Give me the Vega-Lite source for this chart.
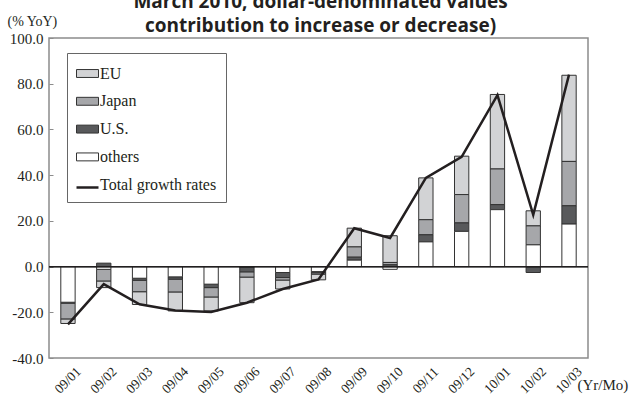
{
  "$schema": "https://vega.github.io/schema/vega-lite/v6.json",
  "width": 539,
  "height": 320,
  "autosize": {"type": "none"},
  "padding": {"left": 49, "top": 38, "right": 42, "bottom": 40},
  "background": "white",
  "title": {
    "text": ["March 2010, dollar-denominated values", "contribution to increase or decrease)"],
    "font": "Open Sans",
    "fontSize": 19,
    "fontWeight": "bold",
    "lineHeight": 24,
    "color": "#231f20",
    "anchor": "middle",
    "offset": -22,
    "dx": 2
  },
  "config": {
    "view": {"stroke": "#8c8c8c", "strokeWidth": 1.5},
    "axis": {"labelFont": "Times New Roman, Liberation Serif, serif", "titleFont": "Times New Roman, Liberation Serif, serif", "labelColor": "#231f20", "titleColor": "#231f20", "grid": false, "domain": false}
  },
  "datasets": {
    "parts": [
      {"month": "09/01", "series": "EU", "value": -2.0}, {"month": "09/01", "series": "Japan", "value": -6.9}, {"month": "09/01", "series": "U.S.", "value": -0.4}, {"month": "09/01", "series": "others", "value": -15.6},
      {"month": "09/02", "series": "EU", "value": -2.9}, {"month": "09/02", "series": "Japan", "value": -5.1}, {"month": "09/02", "series": "U.S.", "value": 1.5}, {"month": "09/02", "series": "others", "value": -1.2},
      {"month": "09/03", "series": "EU", "value": -5.6}, {"month": "09/03", "series": "Japan", "value": -5.0}, {"month": "09/03", "series": "U.S.", "value": -0.9}, {"month": "09/03", "series": "others", "value": -5.1},
      {"month": "09/04", "series": "EU", "value": -8.3}, {"month": "09/04", "series": "Japan", "value": -5.6}, {"month": "09/04", "series": "U.S.", "value": -1.0}, {"month": "09/04", "series": "others", "value": -4.5},
      {"month": "09/05", "series": "EU", "value": -6.1}, {"month": "09/05", "series": "Japan", "value": -4.1}, {"month": "09/05", "series": "U.S.", "value": -1.5}, {"month": "09/05", "series": "others", "value": -7.7},
      {"month": "09/06", "series": "EU", "value": -11.2}, {"month": "09/06", "series": "Japan", "value": -2.3}, {"month": "09/06", "series": "U.S.", "value": -2.1}, {"month": "09/06", "series": "others", "value": -0.2},
      {"month": "09/07", "series": "EU", "value": -3.9}, {"month": "09/07", "series": "Japan", "value": -1.1}, {"month": "09/07", "series": "U.S.", "value": -2.2}, {"month": "09/07", "series": "others", "value": -2.6},
      {"month": "09/08", "series": "EU", "value": -2.5}, {"month": "09/08", "series": "Japan", "value": -0.6}, {"month": "09/08", "series": "U.S.", "value": -0.5}, {"month": "09/08", "series": "others", "value": -2.2},
      {"month": "09/09", "series": "EU", "value": 8.2}, {"month": "09/09", "series": "Japan", "value": 4.5}, {"month": "09/09", "series": "U.S.", "value": 1.3}, {"month": "09/09", "series": "others", "value": 2.8},
      {"month": "09/10", "series": "EU", "value": 11.7}, {"month": "09/10", "series": "Japan", "value": 1.0}, {"month": "09/10", "series": "U.S.", "value": 0.8}, {"month": "09/10", "series": "others", "value": -1.2},
      {"month": "09/11", "series": "EU", "value": 18.3}, {"month": "09/11", "series": "Japan", "value": 6.6}, {"month": "09/11", "series": "U.S.", "value": 3.1}, {"month": "09/11", "series": "others", "value": 10.8},
      {"month": "09/12", "series": "EU", "value": 16.8}, {"month": "09/12", "series": "Japan", "value": 12.4}, {"month": "09/12", "series": "U.S.", "value": 3.7}, {"month": "09/12", "series": "others", "value": 15.4},
      {"month": "10/01", "series": "EU", "value": 32.6}, {"month": "10/01", "series": "Japan", "value": 15.6}, {"month": "10/01", "series": "U.S.", "value": 2.2}, {"month": "10/01", "series": "others", "value": 24.9},
      {"month": "10/02", "series": "EU", "value": 6.6}, {"month": "10/02", "series": "Japan", "value": 8.3}, {"month": "10/02", "series": "U.S.", "value": -2.6}, {"month": "10/02", "series": "others", "value": 9.5},
      {"month": "10/03", "series": "EU", "value": 37.7}, {"month": "10/03", "series": "Japan", "value": 19.4}, {"month": "10/03", "series": "U.S.", "value": 8.0}, {"month": "10/03", "series": "others", "value": 18.6}
    ],
    "totals": [
      {"month": "09/01", "series": "Total growth rates", "value": -25.3},
      {"month": "09/02", "series": "Total growth rates", "value": -7.7},
      {"month": "09/03", "series": "Total growth rates", "value": -16.5},
      {"month": "09/04", "series": "Total growth rates", "value": -19.2},
      {"month": "09/05", "series": "Total growth rates", "value": -19.9},
      {"month": "09/06", "series": "Total growth rates", "value": -15.8},
      {"month": "09/07", "series": "Total growth rates", "value": -9.8},
      {"month": "09/08", "series": "Total growth rates", "value": -5.6},
      {"month": "09/09", "series": "Total growth rates", "value": 16.8},
      {"month": "09/10", "series": "Total growth rates", "value": 12.5},
      {"month": "09/11", "series": "Total growth rates", "value": 38.8},
      {"month": "09/12", "series": "Total growth rates", "value": 48.0},
      {"month": "10/01", "series": "Total growth rates", "value": 75.0},
      {"month": "10/02", "series": "Total growth rates", "value": 22.6},
      {"month": "10/03", "series": "Total growth rates", "value": 84.0}
    ]
  },
  "encoding": {
    "x": {
      "field": "month", "type": "ordinal",
      "scale": {"paddingInner": 0.6, "paddingOuter": 0.33},
      "axis": {"ticks": false, "tickSize": 0, "labelAngle": -45, "labelAlign": "center", "labelBaseline": "middle", "labelPadding": 22, "labelFontSize": 13.5,
        "title": "(Yr/Mo)", "titleFontSize": 15, "titleFontWeight": "normal", "titleAngle": 0, "titleAlign": "left", "titleBaseline": "alphabetic", "titleX": 528, "titleY": 31}
    }
  },
  "layer": [
    {
      "data": {"name": "parts"},
      "mark": {"type": "bar", "strokeWidth": 1},
      "encoding": {
        "y": {"field": "value", "type": "quantitative", "stack": "zero",
          "scale": {"domain": [-40, 100], "nice": false, "zero": false},
          "axis": {"values": [-40, -20, 0, 20, 40, 60, 80, 100], "labelExpr": "(datum.value < 0 ? '-' : '') + format(abs(datum.value), '.1f')", "labelFontSize": 15, "tickSize": -4, "tickColor": "#8c8c8c", "labelPadding": 10,
            "title": "(% YoY)", "titleFontSize": 14, "titleFontWeight": "normal", "titleAngle": 0, "titleAlign": "left", "titleBaseline": "alphabetic", "titleX": -42, "titleY": -13}
        },
        "order": {"field": "series", "sort": "descending"},
        "fill": {"field": "series", "type": "nominal",
          "scale": {"domain": ["EU", "Japan", "U.S.", "others", "Total growth rates"], "range": ["#d2d3d5", "#a6a7aa", "#58595b", "#ffffff", "transparent"]},
          "legend": {"orient": "none", "legendX": 18, "legendY": 15, "title": null, "strokeColor": "#666666", "fillColor": "white", "padding": 9,
            "symbolType": "M-1,-0.36H1V0.36H-1Z", "symbolSize": 484, "symbolStrokeWidth": 1,
            "labelFont": "Times New Roman, Liberation Serif, serif", "labelFontSize": 16, "labelColor": "#231f20", "rowPadding": 7.8, "labelOffset": 1}
        },
        "stroke": {"field": "series", "type": "nominal",
          "scale": {"domain": ["EU", "Japan", "U.S.", "others", "Total growth rates"], "range": ["#333333", "#333333", "#333333", "#333333", "transparent"]}
        }
      }
    },
    {
      "data": {"name": "totals"},
      "mark": {"type": "rule", "color": "#231f20", "strokeWidth": 1},
      "encoding": {"y": {"datum": 0}, "x": null}
    },
    {
      "data": {"name": "totals"},
      "mark": {"type": "line", "strokeWidth": 2.5},
      "encoding": {
        "y": {"field": "value", "type": "quantitative"},
        "color": {"field": "series", "type": "nominal",
          "scale": {"domain": ["Total growth rates"], "range": ["#231f20"]},
          "legend": {"orient": "none", "legendX": 26, "legendY": 137, "title": null, "labelExpr": "''", "symbolType": "stroke", "symbolSize": 484, "symbolStrokeWidth": 2.5, "padding": 0}
        }
      }
    }
  ]
}
